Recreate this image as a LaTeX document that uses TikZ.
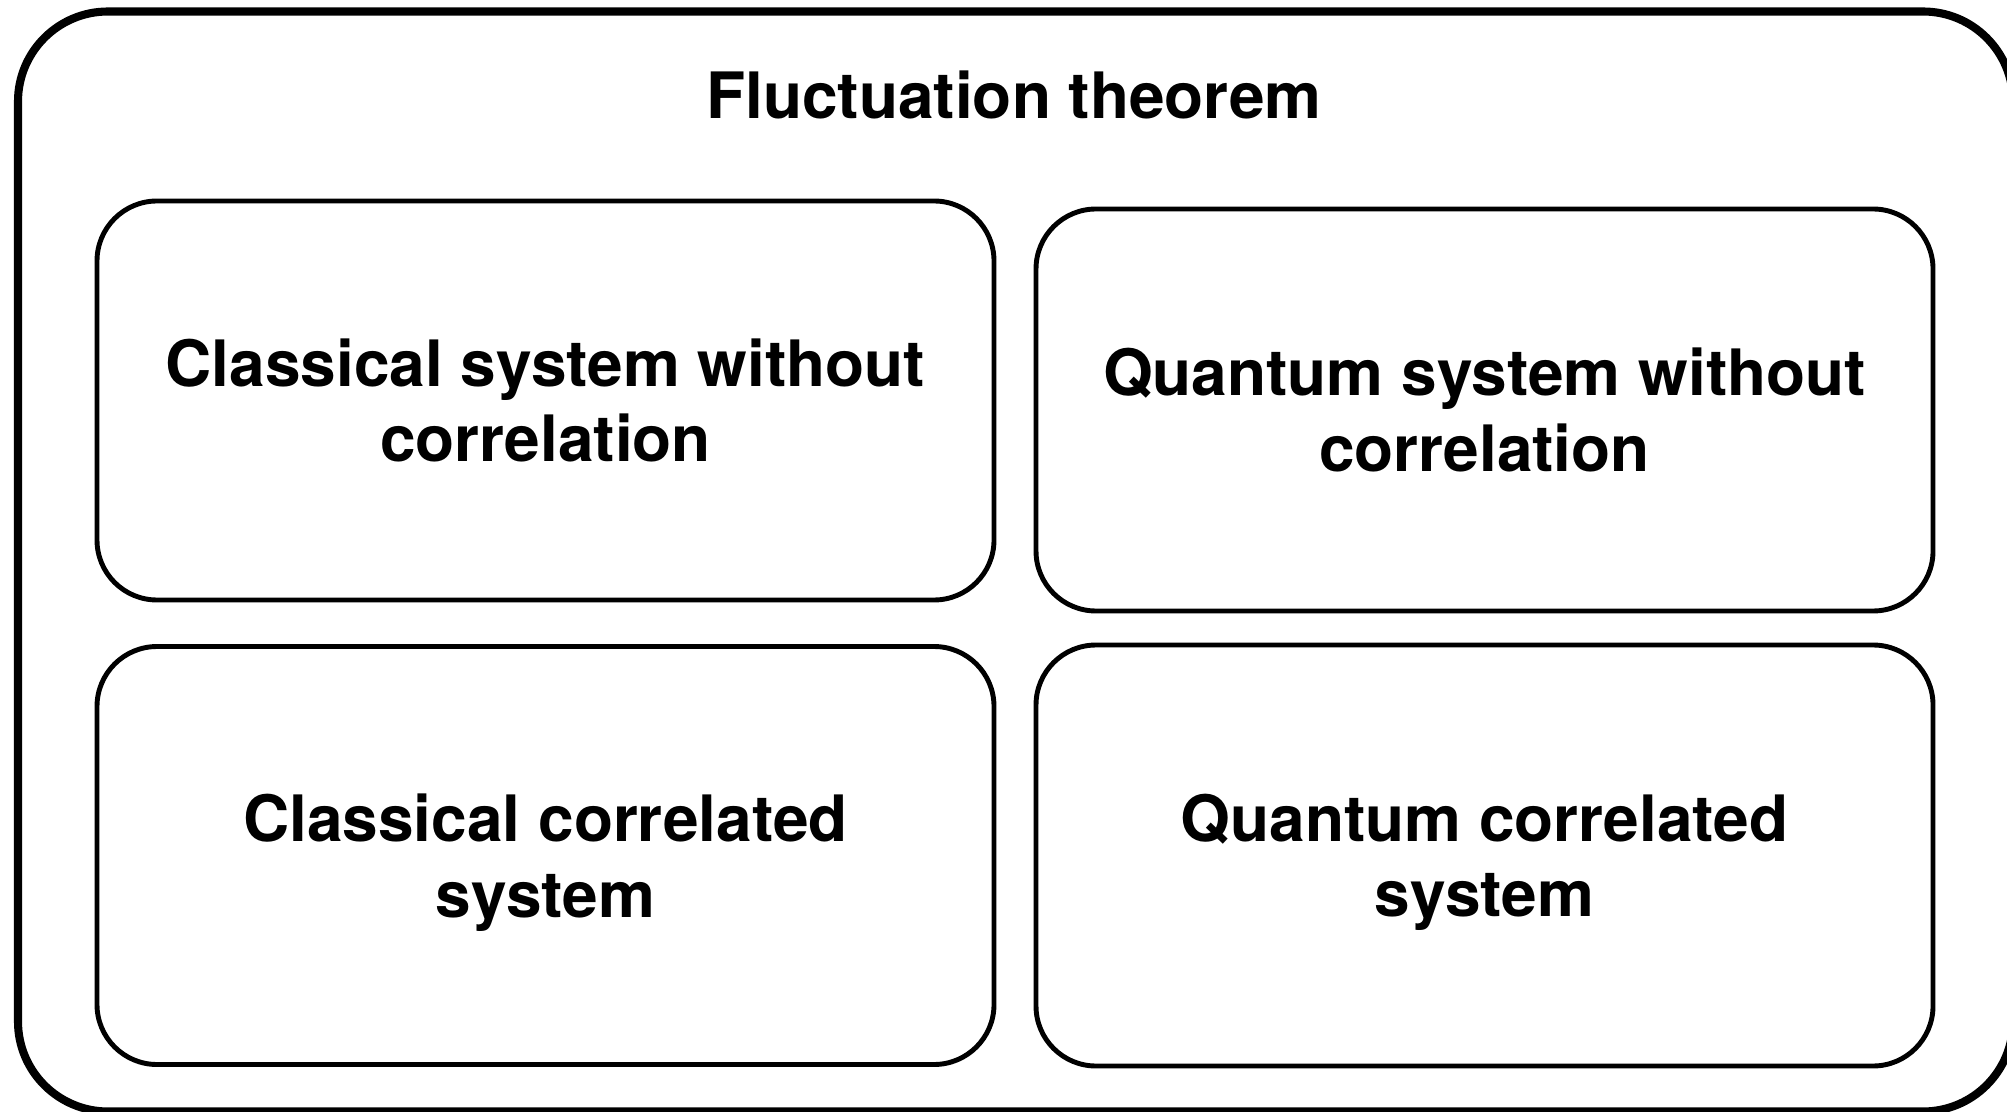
\documentclass[tikz,border=0pt]{standalone}
\usepackage{fontspec}
\setmainfont{TeX Gyre Heros}
\usetikzlibrary{positioning, calc}
\tikzset{
  every picture/.style={font=\bfseries\fontsize{18.2}{21.5}\selectfont},
  frame/.style={draw, line width=2.3pt, rounded corners=0.9cm, inner sep=0pt},
  panel/.style={draw, line width=1.4pt, rounded corners=0.6cm, align=center, inner sep=0pt, minimum width=8.97cm},
  title/.style={anchor=base, inner sep=0pt},
}

\begin{document}
\begin{tikzpicture}
  \useasboundingbox (0,0) rectangle (20.07,11.11);
  % outer frame and its heading
  \node[frame, minimum width=19.95cm, minimum height=11.0cm] (fluct) at (10.155,5.495) {};
  \node[title] (head) at (10.14,9.92) {Fluctuation theorem};
  % top row: systems without correlation
  \node[panel, minimum height=3.99cm] (clnc) at (5.455,7.105) {Classical system without\\correlation};
  \node[panel, minimum height=4.02cm] (qunc) at (14.845,7.01) {Quantum system without\\correlation};
  % bottom row: correlated systems
  \node[panel, text depth=-1.5pt, minimum height=4.18cm] (clc) at (5.455,2.555) {Classical correlated\\system};
  \node[panel, text depth=-1.5pt, minimum height=4.21cm] (quc) at (14.845,2.555) {Quantum correlated\\system};
\end{tikzpicture}
\end{document}
